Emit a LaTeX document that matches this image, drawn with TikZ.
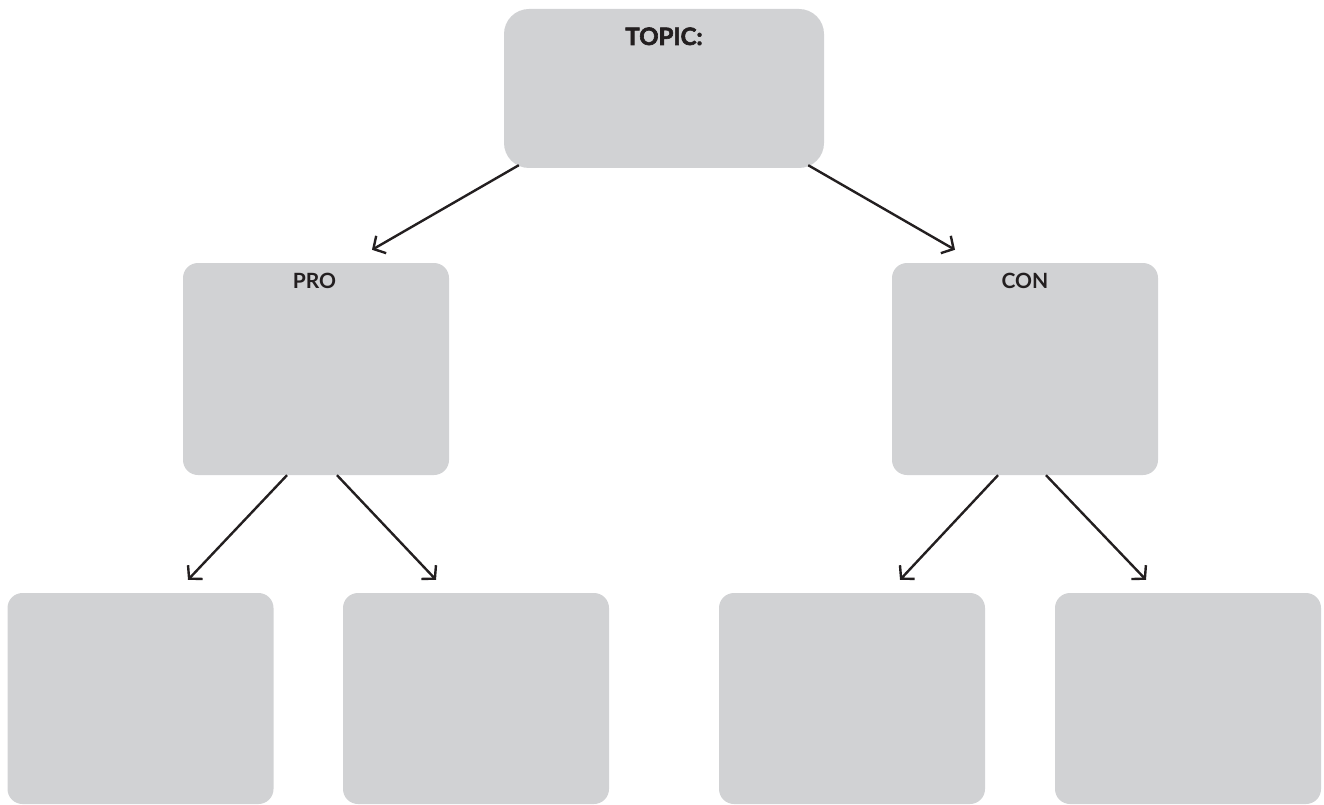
\documentclass[tikz,border=0pt]{standalone}
\usepackage{fontspec}
\setmainfont{Lato}
\newfontfamily\heavyfont{Lato}[FakeBold=2.5]
\usetikzlibrary{arrows.meta,calc}
\definecolor{boxgray}{HTML}{D1D2D4}
\definecolor{inkdark}{HTML}{231F20}
\begin{document}
\begin{tikzpicture}[x=1pt,y=-1pt,
  panel/.style={fill=boxgray, draw=none, rounded corners=15pt, minimum width=266pt, minimum height=212pt, inner sep=0pt},
  heading/.style={text=inkdark, font=\bfseries\fontsize{21}{21}\selectfont, anchor=base, inner sep=0pt},
  link/.style={draw=inkdark, line width=2.4pt, -{Straight Barb[length=9pt,width=20pt,line width=2.4pt]}}]
\useasboundingbox (0,0) rectangle (1324,805);
% boxes
\node[panel, rounded corners=25pt, minimum width=320pt, minimum height=159pt] (top) at (664,88.5) {};
\node[panel] (pro) at (316,369) {};
\node[panel] (con) at (1025,369) {};
\node[panel, minimum height=211pt] (b1) at (140.5,698.5) {};
\node[panel, minimum height=211pt] (b2) at (476,698.5) {};
\node[panel, minimum height=211pt] (b3) at (852,698.5) {};
\node[panel, minimum height=211pt] (b4) at (1188,698.5) {};
% labels
\node[heading, font=\heavyfont\bfseries\fontsize{24}{24}\selectfont] (ttopic) at (664,45) {TOPIC:};
\node[heading] (tpro) at (314.5,288) {PRO};
\node[heading] (tcon) at (1025,288) {CON};
% connectors
\draw[link] ($(top.south west)+(15,-3)$) -- ($(pro.north)+(56,-13)$);
\draw[link] ($(top.south east)+(-16,-3)$) -- ($(con.north)+(-70,-13)$);
\draw[link] ($(pro.south)+(-29,0)$) -- ($(b1.north)+(47.5,-13)$);
\draw[link] ($(pro.south)+(21,0)$) -- ($(b2.north)+(-40,-13)$);
\draw[link] ($(con.south)+(-27,0)$) -- ($(b3.north)+(48,-13)$);
\draw[link] ($(con.south)+(21,0)$) -- ($(b4.north)+(-42,-13)$);
\end{tikzpicture}
\end{document}
